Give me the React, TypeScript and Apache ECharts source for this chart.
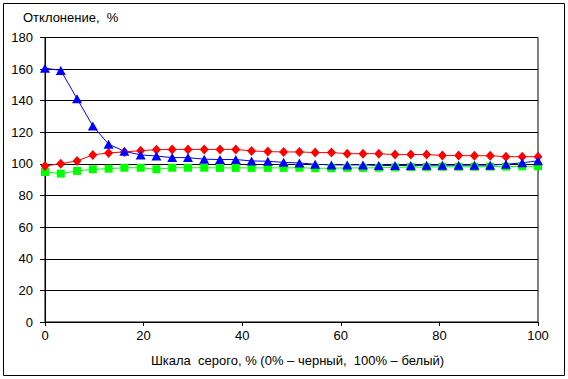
import React, { useEffect, useRef } from "react";
import * as echarts from "echarts";

const xValues = [0, 3.2, 6.5, 9.7, 12.9, 16.1, 19.4, 22.6, 25.8, 29.0, 32.3, 35.5, 38.7, 41.9, 45.2, 48.4, 51.6, 54.8, 58.1, 61.3, 64.5, 67.7, 71.0, 74.2, 77.4, 80.6, 83.9, 87.1, 90.3, 93.5, 96.8, 100];
const redValues = [98.7, 100.2, 101.9, 105.7, 107.0, 107.6, 108.4, 109.0, 109.2, 109.2, 109.2, 109.2, 109.2, 108.2, 107.8, 107.6, 107.6, 107.2, 107.2, 106.5, 106.5, 106.5, 105.9, 105.9, 106.0, 105.3, 105.3, 105.2, 105.2, 104.6, 104.6, 104.6];
const blueValues = [160.6, 159.2, 141.3, 124.0, 112.5, 108.0, 105.7, 105.0, 104.0, 104.0, 103.0, 102.8, 102.8, 101.9, 101.7, 101.0, 100.6, 99.8, 99.4, 99.4, 99.4, 99.0, 99.0, 99.0, 99.2, 99.2, 99.2, 99.2, 99.2, 99.8, 100.7, 102.0];
const greenValues = [94.9, 93.9, 95.6, 96.6, 97.0, 97.6, 97.6, 96.6, 97.6, 97.6, 97.6, 97.5, 97.5, 97.5, 97.5, 97.5, 97.6, 97.3, 97.3, 97.5, 97.5, 97.6, 97.8, 98.0, 98.0, 98.2, 98.2, 98.2, 98.3, 98.3, 98.5, 98.5];
const yTitle = "Отклонение,  %";
const xTitle = "Шкала  серого, % (0% – черный,  100% – белый)";

const FONT = "'Liberation Sans', Arial, sans-serif";

const pairs = (vals: number[]) => xValues.map((x, i) => [x, vals[i]]);

export default function App() {
  const ref = useRef<HTMLDivElement>(null);
  useEffect(() => {
    if (!ref.current) return;
    const chart = echarts.init(ref.current, undefined, { renderer: "svg" });
    const mkSeries = (name: string, vals: number[], color: string, symbol: string, size: number | number[]) => ({
      name,
      type: "line",
      data: pairs(vals),
      symbol,
      symbolSize: size,
      showAllSymbol: true,
      lineStyle: { color, width: 1 },
      itemStyle: { color },
      emphasis: { disabled: true },
    });
    chart.setOption({
      animation: false,
      backgroundColor: "#ffffff",
      textStyle: { fontFamily: FONT },
      grid: {
        left: 45,
        right: 30,
        top: 37.5,
        bottom: 57,
        show: true,
        borderColor: "#000",
        borderWidth: 1,
      },
      xAxis: {
        type: "value",
        min: 0,
        max: 100,
        interval: 20,
        name: xTitle,
        nameLocation: "middle",
        nameGap: 32,
        nameTextStyle: { color: "#000", fontSize: 13, fontFamily: FONT, padding: [0, 0, 0, 12] },
        axisLine: { lineStyle: { color: "#000", width: 1 } },
        axisTick: { show: true, length: 4, lineStyle: { color: "#000" } },
        axisLabel: { color: "#000", fontSize: 13, fontFamily: FONT, margin: 7 },
        splitLine: { show: false },
      },
      yAxis: {
        type: "value",
        min: 0,
        max: 180,
        interval: 20,
        axisLine: { show: true, lineStyle: { color: "#000", width: 1 } },
        axisTick: { show: true, length: 5, lineStyle: { color: "#000" } },
        axisLabel: { color: "#000", fontSize: 13, fontFamily: FONT, margin: 12 },
        splitLine: { show: true, lineStyle: { color: "#000", width: 1 } },
      },
      graphic: [
        {
          type: "rect",
          shape: { x: 3.5, y: 3.5, width: 561, height: 372 },
          style: { fill: "none", stroke: "#000", lineWidth: 1 },
          silent: true,
        },
        {
          type: "text",
          x: 23,
          y: 17,
          style: { text: yTitle, fill: "#000", font: `13px ${FONT}`, textVerticalAlign: "middle" },
          silent: true,
        },
      ],
      series: [
        mkSeries("green", greenValues, "#00ff00", "rect", 8),
        mkSeries("red", redValues, "#ff0000", "diamond", [9, 10]),
        mkSeries("blue", blueValues, "#0000ff", "triangle", [10, 9]),
      ],
    });
    return () => chart.dispose();
  }, []);
  return <div ref={ref} style={{ position: "fixed", left: 0, top: 0, width: 568, height: 379 }} />;
}
